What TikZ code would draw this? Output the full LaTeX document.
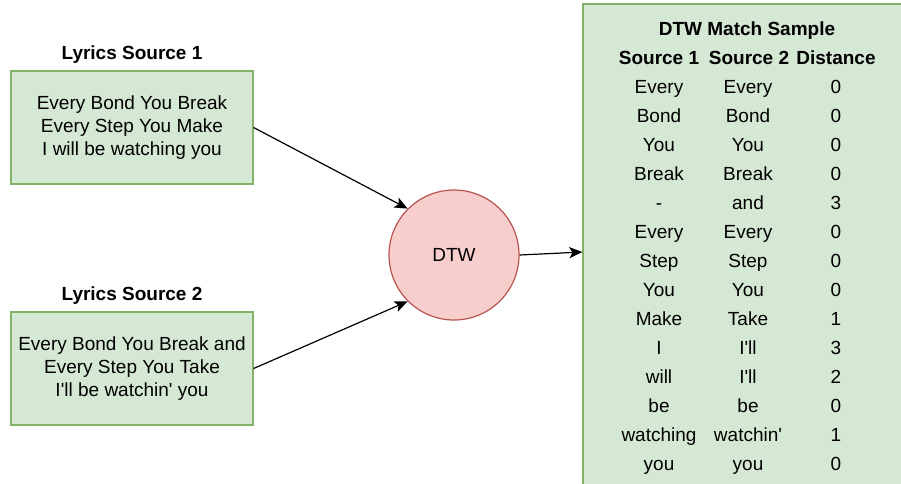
\documentclass[tikz,border=0pt]{standalone}
\usepackage{fontspec}
\setmainfont{Liberation Sans}[Ligatures=TeXOff]
\usetikzlibrary{arrows.meta,positioning}
\definecolor{lyricfill}{HTML}{D5E8D4}
\definecolor{lyricline}{HTML}{82B366}
\definecolor{dtwfill}{HTML}{F8CECC}
\definecolor{dtwline}{HTML}{B85450}
\tikzset{
  lyrics/.style={draw=lyricline, fill=lyricfill, line width=1.2pt, align=center,
    minimum width=242pt, minimum height=113pt, font=\fontsize{19}{23}\selectfont},
  caption/.style={inner sep=2pt, font=\fontsize{19}{23}\selectfont\bfseries},
  cell/.style={inner sep=0pt, text height=13.5pt, text depth=4pt, font=\fontsize{19}{23}\selectfont},
  flow/.style={-{Stealth[length=13pt,width=11pt,inset=3pt]}, line width=1.2pt}
}
\begin{document}
\begin{tikzpicture}[x=1pt,y=-1pt]
    \useasboundingbox (0,0) rectangle (901,483);
    \clip (0,0) rectangle (901,483);
    % the two lyric sources
    \node[lyrics] (src1) at (132,127.5) {Every Bond You Break\\Every Step You Make\\I will be watching you};
    \node[caption, above=5pt of src1] (cap1) {Lyrics Source 1};
    \node[lyrics] (src2) at (132,368.5) {Every Bond You Break and\\Every Step You Take\\I'll be watchin' you};
    \node[caption, above=5pt of src2] (cap2) {Lyrics Source 2};
    % matcher
    \node[circle, draw=dtwline, fill=dtwfill, line width=1.2pt, minimum size=130pt,
      font=\fontsize{19}{23}\selectfont] (dtw) at (454,255) {DTW};
    % match table
    \node[draw=lyricline, fill=lyricfill, line width=1.2pt, minimum width=340pt,
      minimum height=496pt] (tbl) at (753,252) {};
    \node[cell, font=\fontsize{19}{23}\selectfont\bfseries] (title) at (747,30.5) {DTW Match Sample};
    \node[cell, font=\fontsize{19}{23}\selectfont\bfseries] (h1) at (659,59.5) {Source 1};
    \node[cell, font=\fontsize{19}{23}\selectfont\bfseries] (h2) at (749,59.5) {Source 2};
    \node[cell, font=\fontsize{19}{23}\selectfont\bfseries] (h3) at (836,59.5) {Distance};
    \foreach \a/\b/\c [count=\i] in {Every/Every/0, Bond/Bond/0, You/You/0, Break/Break/0,
        -/and/3, Every/Every/0, Step/Step/0, You/You/0, Make/Take/1, I/I'll/3,
        will/I'll/2, be/be/0, watching/watchin'/1, you/you/0} {
      \node[cell] (a\i) at (659,{59.5+29*\i}) {\a};
      \node[cell] (b\i) at (748,{59.5+29*\i}) {\b};
      \node[cell] (c\i) at (836,{59.5+29*\i}) {\c};
    }
    % connectors
    \draw[flow] (src1.east) -- (dtw.135);
    \draw[flow] (src2.east) -- (dtw.225);
    \draw[flow] (dtw.east) -- (tbl.west);
\end{tikzpicture}
\end{document}
